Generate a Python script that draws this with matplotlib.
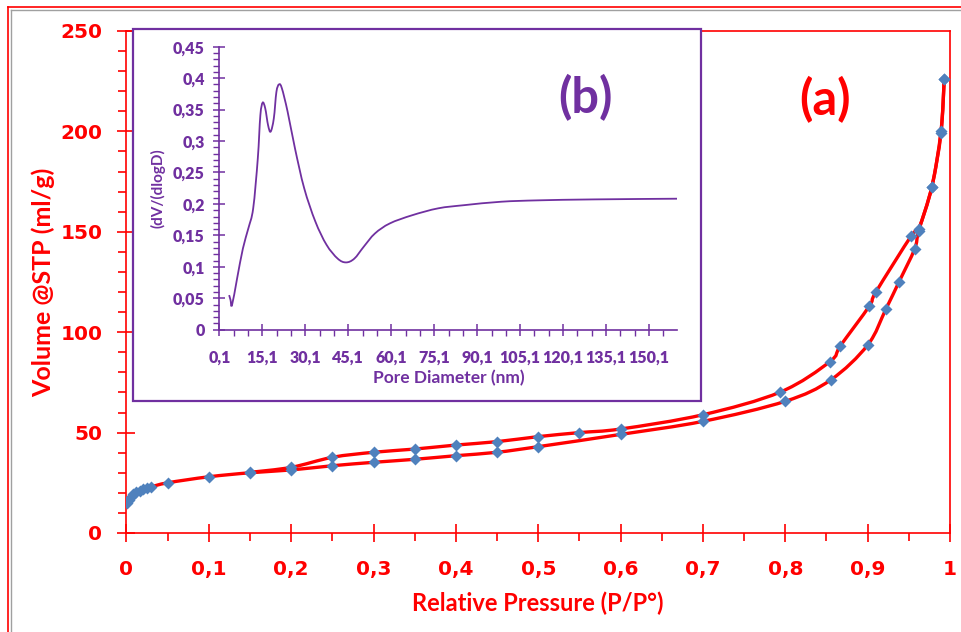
import numpy as np
import matplotlib
matplotlib.use("Agg")
import matplotlib.pyplot as plt
from matplotlib.path import Path
from matplotlib.patches import PathPatch, Rectangle
from matplotlib.lines import Line2D
from matplotlib.ticker import MultipleLocator, FixedLocator, FuncFormatter

# isotherm, adsorption branch (lower)
ads_p = [0.001, 0.003, 0.005, 0.008, 0.012, 0.016, 0.02, 0.025, 0.03, 0.05,
         0.1, 0.15, 0.2, 0.25, 0.3, 0.35, 0.4, 0.45, 0.5, 0.6, 0.7, 0.8,
         0.855, 0.9, 0.922, 0.938, 0.957, 0.962, 0.978, 0.989, 0.993]
ads_v = [14.8, 16.5, 18.0, 19.3, 20.3, 21.0, 21.7, 22.3, 23.0, 25.0,
         28.0, 30.0, 31.4, 33.5, 35.2, 36.7, 38.5, 40.2, 43.0, 49.1, 55.6, 65.6,
         76.2, 93.6, 111.4, 125.0, 141.4, 150.5, 172.5, 199.0, 226.0]

# desorption branch (upper)
des_p = [0.993, 0.989, 0.978, 0.962, 0.953, 0.91, 0.902, 0.867, 0.854, 0.794,
         0.7, 0.6, 0.55, 0.5, 0.45, 0.4, 0.35, 0.3, 0.25, 0.2, 0.15]
des_v = [226.0, 200.0, 172.5, 151.5, 148.0, 120.0, 113.0, 93.3, 85.3, 70.2,
         58.9, 51.8, 50.0, 48.0, 45.5, 43.8, 41.8, 40.2, 37.7, 32.7, 30.2]

# pore size distribution (inset)
pore_d = [3.5, 4.0, 4.5, 6.3, 8.3, 10.2, 11.9, 13.5, 14.4, 15.2, 16.1, 17.1,
          18.0, 19.1, 20.0, 20.9, 21.9, 23.9, 26.5, 29.7, 33.6, 37.5, 41.4,
          44.3, 47.2, 50.5, 54.4, 59.6, 67.4, 76.5, 85.5, 98.5, 111.5, 131.0, 160.0]
dv_dlogd = [0.055, 0.047, 0.039, 0.082, 0.129, 0.161, 0.193, 0.272, 0.341, 0.361,
            0.352, 0.325, 0.315, 0.336, 0.378, 0.390, 0.384, 0.347, 0.288, 0.225,
            0.172, 0.135, 0.113, 0.107, 0.113, 0.132, 0.153, 0.169, 0.182, 0.193,
            0.198, 0.2035, 0.2057, 0.2072, 0.2083]

RED = "#FF0000"
PURPLE = "#7030A0"
BLUE = "#4F81BD"
FONT = "Lato"
H = 632


def smooth_path(xs, ys):
    # Catmull-Rom style bezier through the points (like Excel smoothed lines)
    pts = np.column_stack([xs, ys]).astype(float)
    n = len(pts)
    verts = [pts[0]]
    codes = [Path.MOVETO]
    for i in range(n - 1):
        p0 = pts[i - 1] if i > 0 else pts[i]
        p1 = pts[i]
        p2 = pts[i + 1]
        p3 = pts[i + 2] if i + 2 < n else pts[i + 1]
        verts += [p1 + (p2 - p0) / 6.0, p2 - (p3 - p1) / 6.0, p2]
        codes += [Path.CURVE4] * 3
    return Path(verts, codes)


def comma(v, pos):
    s = ("%.2f" % v).rstrip("0").rstrip(".")
    return s.replace(".", ",")


fig = plt.figure(figsize=(9.62, 6.32), dpi=100)

# outer frame lines
fig.add_artist(Line2D([8 / 962, 1], [1 - 7 / H] * 2, color=RED, lw=1.2, transform=fig.transFigure))
fig.add_artist(Line2D([8 / 962] * 2, [0, 1 - 7 / H], color=RED, lw=1.2, transform=fig.transFigure))
fig.add_artist(Line2D([11 / 962, 1], [1 - 10 / H] * 2, color="#A0A0A0", lw=1, transform=fig.transFigure))
fig.add_artist(Line2D([11 / 962] * 2, [0, 1 - 10 / H], color="#A0A0A0", lw=1, transform=fig.transFigure))

ax = fig.add_axes([126.5 / 962, 1 - 533 / H, 823.5 / 962, 502 / H])
for sp in ax.spines.values():
    sp.set_color(RED)
    sp.set_linewidth(1.2)
ax.set_xlim(0, 1)
ax.set_ylim(0, 250)
ax.xaxis.set_major_locator(MultipleLocator(0.1))
ax.xaxis.set_minor_locator(MultipleLocator(0.05))
ax.yaxis.set_major_locator(MultipleLocator(50))
ax.yaxis.set_minor_locator(MultipleLocator(10))
ax.xaxis.set_major_formatter(FuncFormatter(comma))
ax.tick_params(which="major", direction="inout", length=13, width=1.2, color=RED,
               labelcolor=RED, labelsize=14.5)
ax.tick_params(which="minor", direction="out", length=6, width=1.2, color=RED)
ax.tick_params(axis="x", which="major", pad=13)
ax.tick_params(axis="y", which="major", pad=11)
for lab in ax.get_xticklabels() + ax.get_yticklabels():
    lab.set_fontweight("bold")
    lab.set_family("DejaVu Sans")

ax.add_patch(PathPatch(smooth_path(ads_p, ads_v), fill=False, edgecolor=RED, lw=2.4, zorder=3))
ax.add_patch(PathPatch(smooth_path(des_p, des_v), fill=False, edgecolor=RED, lw=2.4, zorder=3))
ax.plot(ads_p, ads_v, ls="none", marker="D", ms=6.5, color=BLUE, mec="none", zorder=4)
ax.plot(des_p, des_v, ls="none", marker="D", ms=6.5, color=BLUE, mec="none", zorder=4)

ax.set_xlabel("Relative Pressure (P/P°)", color=RED, fontsize=17, fontweight="bold",
              family=FONT, va="center")
ax.xaxis.set_label_coords(0.5, (533 - 603) / 502)
ax.set_ylabel("Volume @STP (ml/g)", color=RED, fontsize=18, fontweight="bold",
              family=FONT, va="center")
ax.yaxis.set_label_coords((43 - 126.5) / 823.5, (533 - 282) / 502)

ax.text(825, H - 100, "(a)", transform=None, color=RED, fontsize=35, fontweight="bold",
        family=FONT, ha="center", va="center")

# inset frame
frame = Rectangle((133 / 962, 1 - 401 / H), 568 / 962, 372 / H, transform=fig.transFigure,
                  facecolor="white", edgecolor=PURPLE, lw=1.6, zorder=10, clip_on=False)
ax.add_patch(frame)

ins = fig.add_axes([219.4 / 962, 1 - 329.7 / H, 458 / 962, 283 / H])
ins.patch.set_alpha(0)
ins.spines["top"].set_visible(False)
ins.spines["right"].set_visible(False)
for sp in ["left", "bottom"]:
    ins.spines[sp].set_color(PURPLE)
    ins.spines[sp].set_linewidth(1.2)
ins.set_xlim(0.1, 160)
ins.set_ylim(0, 0.45)
ins.set_xticks(np.arange(0.1, 160, 15))
ins.xaxis.set_minor_locator(FixedLocator(np.arange(0.1, 160, 5)))
ins.yaxis.set_major_locator(MultipleLocator(0.05))
ins.yaxis.set_minor_locator(MultipleLocator(0.01))
ins.xaxis.set_major_formatter(FuncFormatter(lambda v, p: ("%.1f" % v).replace(".", ",")))
ins.yaxis.set_major_formatter(FuncFormatter(comma))
ins.tick_params(which="major", direction="inout", length=9, width=1.1, color=PURPLE,
                labelcolor=PURPLE, labelsize=11.5)
ins.tick_params(which="minor", direction="out", length=4, width=1.0, color=PURPLE)
ins.tick_params(axis="x", which="major", pad=10)
ins.tick_params(axis="y", which="major", pad=6)
for lab in ins.get_xticklabels() + ins.get_yticklabels():
    lab.set_fontweight("heavy")
    lab.set_family(FONT)

ins.add_patch(PathPatch(smooth_path(pore_d, dv_dlogd), fill=False, edgecolor=PURPLE, lw=1.3))

ins.set_xlabel("Pore Diameter (nm)", color=PURPLE, fontsize=12.5, fontweight="bold",
               family=FONT, va="center")
ins.xaxis.set_label_coords(0.5, (329.7 - 378) / 283)
ins.set_ylabel("(dV/(dlogD)", color=PURPLE, fontsize=11, fontweight="bold",
               family=FONT, va="center")
ins.yaxis.set_label_coords((158 - 219.4) / 458, (329.7 - 188) / 283)

ins.text(585, H - 98, "(b)", transform=None, color=PURPLE, fontsize=35, fontweight="bold",
         family=FONT, ha="center", va="center")

fig.savefig("out.png", dpi=100)
